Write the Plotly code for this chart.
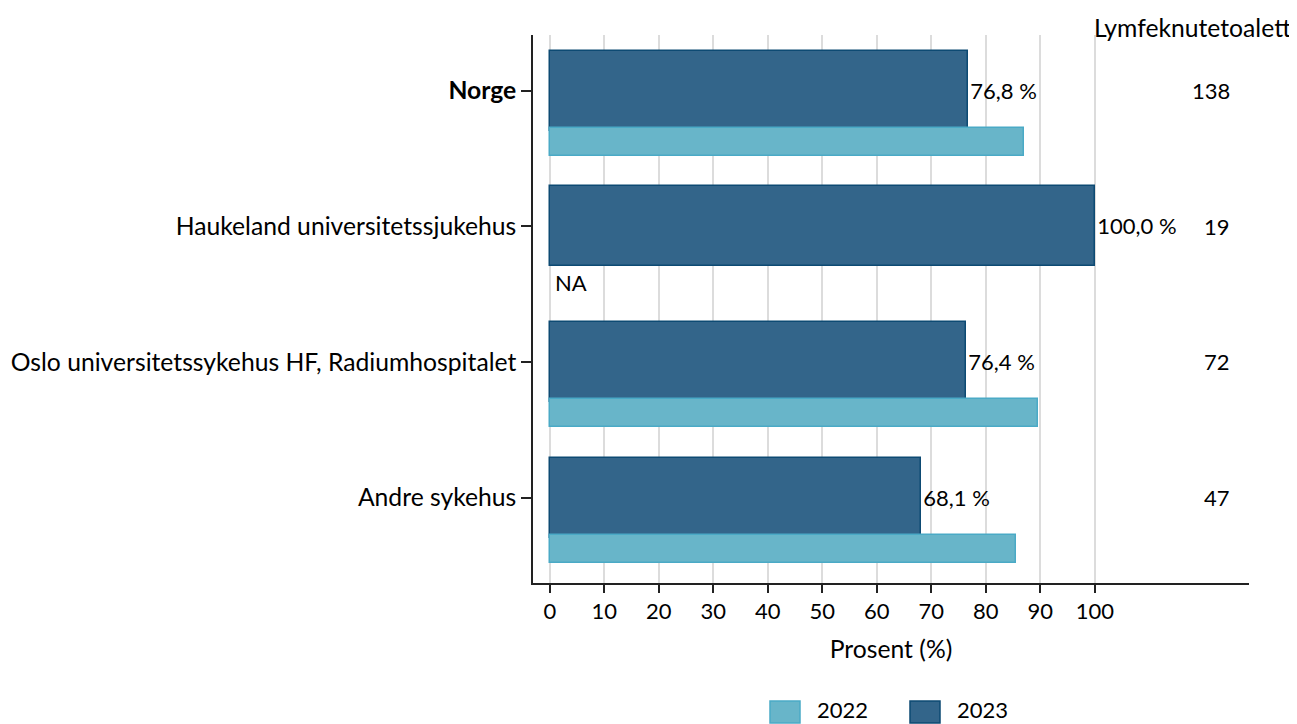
import plotly.graph_objects as go

categories = ["Norge", "Haukeland universitetssjukehus",
              "Oslo universitetssykehus HF, Radiumhospitalet", "Andre sykehus"]
tick_labels = ["<b>Norge</b>", "Haukeland universitetssjukehus",
               "Oslo universitetssykehus HF, Radiumhospitalet", "Andre sykehus"]
values_2023 = [76.8, 100.0, 76.4, 68.1]
values_2022 = [87.0, None, 89.5, 85.5]
n_2023 = [138, 19, 72, 47]
x_ticks = [0, 10, 20, 30, 40, 50, 60, 70, 80, 90, 100]

FONT = "Lato"
FS_TXT = 24.7
FS_NUM = 22
DARK = "#33658a"
DARK_LINE = "#0d4a73"
LIGHT = "#68b5c9"
LIGHT_LINE = "#4aaac6"

pos = list(range(len(categories)))
pos_2022 = [p + 0.376 for p in pos]

fig = go.Figure()
fig.add_trace(go.Bar(
    y=pos, x=values_2023, orientation="h", width=0.59, name="2023",
    marker=dict(color=DARK, line=dict(color=DARK_LINE, width=1.5)),
    text=[f"{v:.1f} %".replace(".", ",") for v in values_2023],
    textposition="outside", constraintext="none", cliponaxis=False,
    textfont=dict(family=FONT, size=FS_NUM, color="black"),
    showlegend=False,
))
fig.add_trace(go.Bar(
    y=pos_2022, x=values_2022, orientation="h", width=0.206, name="2022",
    marker=dict(color=LIGHT, line=dict(color=LIGHT_LINE, width=1.5)),
    showlegend=False,
))

annotations = []
for p, n in zip(pos, n_2023):
    annotations.append(dict(x=125.2, y=p, xref="x", yref="y", text=str(n),
                            showarrow=False, xanchor="right", yanchor="middle",
                            font=dict(family=FONT, size=FS_NUM, color="black")))
for p, v in zip(pos_2022, values_2022):
    if v is None:
        annotations.append(dict(x=0, y=p + 0.04, xref="x", yref="y", text="NA",
                                showarrow=False, xanchor="left", yanchor="middle",
                                xshift=3,
                                font=dict(family=FONT, size=FS_NUM, color="black")))
annotations.append(dict(x=1.0615, y=1.013, xref="paper", yref="paper",
                        text="Lymfeknutetoalett", showarrow=False,
                        xanchor="right", yanchor="middle",
                        font=dict(family=FONT, size=FS_TXT, color="black")))

# manual legend (page-pixel positions converted to plot-area paper coords)
shapes = []
legend_items = [("2022", LIGHT, LIGHT_LINE, 770), ("2023", DARK, DARK_LINE, 910)]
for name, fc, lc, px in legend_items:
    shapes.append(dict(type="rect", xref="paper", yref="paper",
                       x0=(px - 533) / 716, x1=(px + 30 - 533) / 716,
                       y0=(583 - 723) / 548, y1=(583 - 701) / 548,
                       fillcolor=fc, line=dict(color=lc, width=1.5)))
    annotations.append(dict(x=(px + 45 - 533) / 716, y=(583 - 709) / 548,
                            xref="paper", yref="paper", text=name, showarrow=False,
                            xanchor="left", yanchor="middle",
                            font=dict(family=FONT, size=FS_NUM, color="black")))

# the page body has an 8px margin, so the figure is sized/offset to compensate
fig.update_layout(
    width=1289, height=716,
    margin=dict(l=525, r=48, t=27, b=141),
    paper_bgcolor="white", plot_bgcolor="white",
    barmode="overlay", bargap=0,
    font=dict(family=FONT, size=FS_TXT, color="black"),
    annotations=annotations, shapes=shapes,
    showlegend=False,
)
fig.update_xaxes(
    range=[-3.1, 128.3], tickvals=x_ticks, ticktext=[str(t) for t in x_ticks],
    showgrid=True, gridcolor="#dcdcdc", gridwidth=2,
    showline=True, linecolor="#222222", linewidth=1.5,
    ticks="outside", ticklen=8, tickcolor="#222222", tickwidth=1.5,
    zeroline=False, automargin=False,
    title=dict(text="Prosent (%)", font=dict(family=FONT, size=FS_TXT), standoff=18),
    tickfont=dict(family=FONT, size=FS_NUM),
)
fig.update_yaxes(
    range=[3.63, -0.41], tickvals=pos, ticktext=tick_labels,
    showgrid=False, zeroline=False, automargin=False,
    showline=True, linecolor="#222222", linewidth=1.5,
    ticks="outside", ticklen=10, tickcolor="#222222", tickwidth=1.5,
    tickfont=dict(family=FONT, size=FS_TXT),
)

fig.write_html("out.html")
